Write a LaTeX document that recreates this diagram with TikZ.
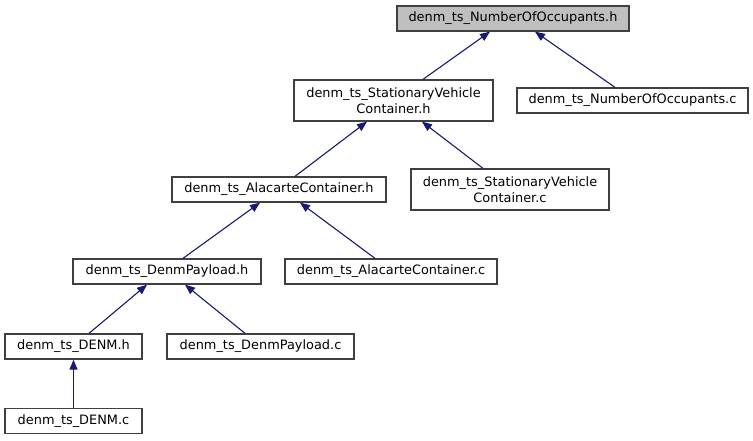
\documentclass[tikz,border=0pt]{standalone}
\usepackage{fontspec}
\setmainfont{DejaVu Sans}
\usetikzlibrary{arrows.meta}
\definecolor{edgeblue}{HTML}{191970}
\definecolor{boxborder}{HTML}{404040}
\tikzset{
  filebox/.style={draw=boxborder, line width=1.3pt, fill=white, inner sep=0pt,
    font=\fontsize{12.9}{16}\selectfont, align=center},
  rootbox/.style={filebox, fill=black!25},
  dep/.style={draw=edgeblue, line width=1.1pt, -{Triangle[length=10pt,width=8pt]}},
}
\begin{document}
\begin{tikzpicture}[x=1pt,y=-1pt]
\useasboundingbox (0,0) rectangle (753,440);
\node[rootbox, minimum width=232pt, minimum height=25pt] (n1) at (513,18.5) {denm\_ts\_NumberOfOccupants.h};
\node[filebox, minimum width=199pt, minimum height=41pt] (n2) at (393.5,100.5) {denm\_ts\_StationaryVehicle\\Container.h};
\node[filebox, minimum width=231pt, minimum height=25pt] (n3) at (632.5,100.5) {denm\_ts\_NumberOfOccupants.c};
\node[filebox, minimum width=214pt, minimum height=25pt] (n4) at (279,189.5) {denm\_ts\_AlacarteContainer.h};
\node[filebox, minimum width=198pt, minimum height=41pt] (n5) at (510,189.5) {denm\_ts\_StationaryVehicle\\Container.c};
\node[filebox, minimum width=188pt, minimum height=25pt] (n6) at (167,271.5) {denm\_ts\_DenmPayload.h};
\node[filebox, minimum width=212pt, minimum height=25pt] (n7) at (391,271.5) {denm\_ts\_AlacarteContainer.c};
\node[filebox, minimum width=137pt, minimum height=25pt] (n8) at (73.5,346.5) {denm\_ts\_DENM.h};
\node[filebox, minimum width=187pt, minimum height=25pt] (n9) at (260.5,346.5) {denm\_ts\_DenmPayload.c};
\node[filebox, minimum width=137pt, minimum height=25pt] (n10) at (73.5,421) {denm\_ts\_DENM.c};

\draw[dep] ([xshift=29.5pt]n2.north) -- ([xshift=-23pt]n1.south);
\draw[dep] ([xshift=-17.5pt]n3.north) -- ([xshift=22pt]n1.south);
\draw[dep] ([xshift=16pt]n4.north) -- ([xshift=-26.5pt]n2.south);
\draw[dep] ([xshift=-27pt]n5.north) -- ([xshift=28.5pt]n2.south);
\draw[dep] ([xshift=16pt]n6.north) -- ([xshift=-19pt]n4.south);
\draw[dep] ([xshift=-16pt]n7.north) -- ([xshift=21pt]n4.south);
\draw[dep] ([xshift=15.5pt]n8.north) -- ([xshift=-20pt]n6.south);
\draw[dep] ([xshift=-15.5pt]n9.north) -- ([xshift=18pt]n6.south);
\draw[dep] (n10.north) -- (n8.south);
\end{tikzpicture}
\end{document}
